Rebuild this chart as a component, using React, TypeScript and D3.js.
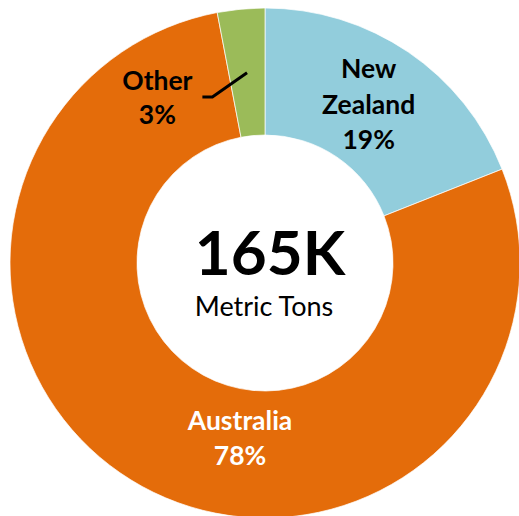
import React from "react";
import * as d3 from "d3";

const categories = ["New Zealand", "Australia", "Other"];
const values = [19, 78, 3];
const labelLines = [["New", "Zealand", "19%"], ["Australia", "78%"], ["Other", "3%"]];
const centerValue = "165K";
const centerUnit = "Metric Tons";

const colors = ["#92CDDC", "#E46C0A", "#9BBB59"];
const labelColors = ["#000000", "#FFFFFF", "#000000"];
// label anchor in polar coords (degrees clockwise from top, radius), and line baselines offsets
const labelPolar = [
  { a: 34.2, r: 188, dx: -2, offs: [-30, 6, 41] },
  { a: 187.7, r: 186, dx: 0, offs: [-17, 18] },
  { a: 325.4, r: 189.5, dx: 0, offs: [-17, 17] },
];

const W = 519;
const H = 516;
const cx = 265;
const cy = 263;
const R = 255;
const r0 = 128;
const FONT = "Lato, 'Open Sans', sans-serif";

export default function App() {
  const pie = d3.pie<number>().sort(null).value((d) => d)(values);
  const arc = d3.arc<d3.PieArcDatum<number>>().innerRadius(r0).outerRadius(R);
  const toXY = (a: number, r: number) => {
    const t = (a * Math.PI) / 180;
    return [cx + r * Math.sin(t), cy - r * Math.cos(t)];
  };
  // leader line for the small slice
  const other = pie[2];
  const mid = (other.startAngle + other.endAngle) / 2;
  const [lx, ly] = toXY((mid * 180) / Math.PI, 191);
  const [ox, oy] = toXY(labelPolar[2].a, labelPolar[2].r);
  const leader = d3.line()([
    [ox + 45, oy - 10],
    [ox + 55, oy - 10],
    [lx, ly],
  ]);
  return (
    <svg width={W} height={H} style={{ position: "absolute", left: 0, top: 0, background: "#fff" }}>
      <g transform={`translate(${cx},${cy})`}>
        {pie.map((p, i) => (
          <path key={categories[i]} d={arc(p) || ""} fill={colors[i]} stroke="#fff" strokeWidth={0.7} />
        ))}
      </g>
      <path d={leader || ""} fill="none" stroke="#000" strokeWidth={3} />
      {labelLines.map((lines, i) => {
        const [x, y] = toXY(labelPolar[i].a, labelPolar[i].r);
        return (
          <text
            key={i}
            x={x + labelPolar[i].dx}
            textAnchor="middle"
            fontFamily={FONT}
            fontWeight="bold"
            fontSize={26.5}
            fill={labelColors[i]}
          >
            {lines.map((l, j) => (
              <tspan key={j} x={x + labelPolar[i].dx} y={y + labelPolar[i].offs[j]}>
                {l}
              </tspan>
            ))}
          </text>
        );
      })}
      <text x={cx + 5} y={cy + 12} textAnchor="middle" fontFamily={FONT} fontWeight="bold" fontSize={62}>
        {centerValue}
      </text>
      <text x={cx - 1} y={cy + 53} textAnchor="middle" fontFamily={FONT} fontSize={27}>
        {centerUnit}
      </text>
    </svg>
  );
}
